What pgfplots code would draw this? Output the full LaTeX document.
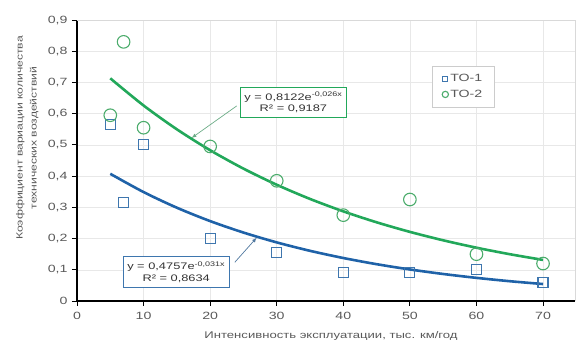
\documentclass[border=0pt]{standalone}
\usepackage{pgfplots}
\pgfplotsset{compat=1.18}
\usepackage{fontspec}
\setmainfont{Liberation Sans}[FakeStretch=1.35]
\definecolor{bluel}{HTML}{1F62A8}
\definecolor{bluem}{HTML}{3E76AE}
\definecolor{greenl}{HTML}{22A85A}
\definecolor{greenm}{HTML}{4CAC6C}
\definecolor{tickgray}{HTML}{595959}
\begin{document}
\begin{tikzpicture}
\path[use as bounding box] (-77pt,-44pt) rectangle (504pt,301pt);
\begin{axis}[
  scale only axis, width=498pt, height=281pt,
  xmin=0, xmax=74.8, ymin=0, ymax=0.9,
  xtick={0,10,...,70}, ytick={0,0.1,...,0.9},
  axis x line*=bottom, axis y line*=left,
  axis line style={black, line width=1.6pt, -},
  tick style={black, line width=0.8pt}, tickpos=left,
  tick align=outside, major tick length=5pt,
  grid=major, major grid style={gray!18, line width=0.5pt},
  ticklabel style={font=\fontsize{10.5}{12}\selectfont, text=tickgray},
  xticklabel style={yshift=-3pt},
  yticklabel style={xshift=-1pt},
  /pgf/number format/.cd, use comma, fixed, assume math mode=true,
  /pgfplots/.cd,
  yticklabel={\ifdim\tick pt=0pt 0\else\pgfmathprintnumber[fixed,fixed zerofill,precision=1,use comma,assume math mode=true]{\tick}\fi},
  xlabel={Интенсивность эксплуатации, тыс. км/год},
  ylabel={Коэффициент вариации количества\\[3pt]технических воздействий},
  label style={text=tickgray, align=center},
  xlabel style={font=\fontsize{9.7}{11}\selectfont, at={(axis description cs:0.51,-0.125)}, anchor=center},
  ylabel style={font=\fontsize{9}{11}\selectfont, at={(axis description cs:-0.1,0.58)}, anchor=center},
  legend style={at={(axis cs:58,0.687)}, anchor=center, draw=gray!40, font=\fontsize{10.5}{12}\selectfont, text=tickgray, inner xsep=10pt, inner ysep=6pt, row sep=3pt},
  legend image post style={scale=0.5},
  legend cell align=left,
  clip=false,
]
\addplot[only marks, mark=square, mark size=5pt, mark options={bluem, line width=1.1pt}]
 coordinates {(5,0.565) (7,0.315) (10,0.50) (20,0.20) (30,0.155) (40,0.09) (50,0.09) (60,0.10) (70,0.06)};
\addlegendentry{ТО-1}
\addplot[only marks, mark=o, mark size=6.3pt, mark options={greenm, line width=1.1pt}]
 coordinates {(5,0.595) (7,0.83) (10,0.555) (20,0.495) (30,0.385) (40,0.275) (50,0.325) (60,0.15) (70,0.12)};
\addlegendentry{ТО-2}
\addplot[smooth, bluel, line width=2.6pt, forget plot]
 coordinates {(5,0.4074) (10,0.3489) (15,0.2988) (20,0.2559) (25,0.2192) (30,0.1877) (35,0.1607) (40,0.1377) (45,0.1179) (50,0.1010) (55,0.0865) (60,0.0741) (65,0.0634) (70,0.0543)};
\addplot[smooth, greenl, line width=2.6pt, forget plot]
 coordinates {(5,0.7132) (10,0.6262) (15,0.5499) (20,0.4829) (25,0.4240) (30,0.3723) (35,0.3269) (40,0.2871) (45,0.2521) (50,0.2214) (55,0.1944) (60,0.1707) (65,0.1499) (70,0.1316)};
\draw[gray!30, line width=0.6pt] (rel axis cs:0,1) -- (rel axis cs:1,1) -- (rel axis cs:1,0);
\draw[-latex, greenl!60!gray!80, line width=0.7pt] (axis cs:24.0,0.625) -- (axis cs:17.2,0.522);
\draw[-latex, bluem!70!gray, line width=0.7pt] (axis cs:23.7,0.124) -- (axis cs:27,0.203);
\node[draw=greenl, line width=1.1pt, fill=white, align=center, font=\fontsize{9.5}{11.5}\selectfont, inner xsep=4pt, inner ysep=4.5pt, text=black!80] at (axis cs:32.5,0.636) {y = 0,8122e\textsuperscript{-0,026x}\\R² = 0,9187};
\node[draw=bluem, line width=1.1pt, fill=white, align=center, font=\fontsize{9.5}{11.5}\selectfont, inner xsep=4pt, inner ysep=5pt, text=black!80] at (axis cs:14.9,0.093) {y = 0,4757e\textsuperscript{-0,031x}\\R² = 0,8634};
\end{axis}
\end{tikzpicture}
\end{document}
